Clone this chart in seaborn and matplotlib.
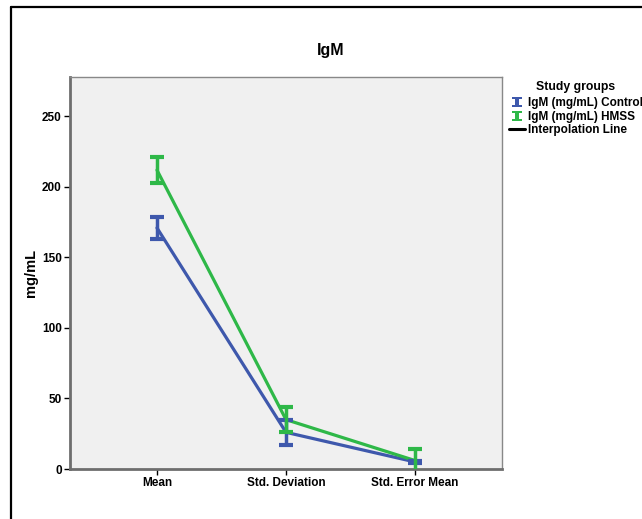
import matplotlib
matplotlib.use("Agg")
import matplotlib.pyplot as plt
import numpy as np
import pandas as pd
import seaborn as sns
from matplotlib.lines import Line2D
from matplotlib.path import Path

# --- data ---
stats = ["Mean", "Std. Deviation", "Std. Error Mean"]
groups = ["IgM (mg/mL) Control", "IgM (mg/mL) HMSS"]
control_vals = [171, 26, 5]
control_low = [163, 17, 4]
control_high = [179, 35, 6]
hmss_vals = [212, 35, 6]
hmss_low = [203, 26, -2]
hmss_high = [221, 44, 14]
colors = ["#3e58ac", "#2eb848"]

df = pd.DataFrame({
    "stat": stats * 2,
    "value": control_vals + hmss_vals,
    "group": [groups[0]] * 3 + [groups[1]] * 3,
})

sns.set_style("white")
plt.rcParams["font.family"] = ["Liberation Sans", "DejaVu Sans"]
plt.rcParams["font.weight"] = "bold"
plt.rcParams["text.color"] = "black"
plt.rcParams["xtick.color"] = "black"
plt.rcParams["ytick.color"] = "black"
plt.rcParams["axes.labelcolor"] = "black"

fig = plt.figure(figsize=(6.42, 5.19), dpi=100)
ax = fig.add_axes([70 / 642, 1 - 469 / 519, 432 / 642, 392 / 519])
ax.set_facecolor("#f0f0f0")

sns.pointplot(data=df, x="stat", y="value", hue="group", palette=colors,
              markers="", errorbar=None, legend=False, ax=ax)
for ln in ax.lines:
    ln.set_linewidth(2.3)

# error bars (I-beams)
lows = [control_low, hmss_low]
highs = [control_high, hmss_high]
vals = [control_vals, hmss_vals]
for i in range(2):
    v = np.array(vals[i])
    err = [v - np.array(lows[i]), np.array(highs[i]) - v]
    ax.errorbar(np.arange(3), v, yerr=err, fmt="none", ecolor=colors[i],
                elinewidth=2.5, capsize=5, capthick=3, zorder=3 + i)

ax.set_xlim(-0.674, 2.674)
ax.set_ylim(0, 278)
ax.set_yticks([0, 50, 100, 150, 200, 250])
ax.set_xlabel("")
ax.set_ylabel("mg/mL", fontsize=10.5, fontweight="bold", labelpad=3)
ax.tick_params(axis="both", labelsize=8.5, length=4, width=1,
               left=True, bottom=True, pad=2)
for lab in ax.get_xticklabels() + ax.get_yticklabels():
    lab.set_fontweight("bold")
for s in ["left", "bottom"]:
    ax.spines[s].set_color("#6e6e6e")
    ax.spines[s].set_linewidth(2)
for s in ["top", "right"]:
    ax.spines[s].set_color("#888888")
    ax.spines[s].set_linewidth(1)

fig.text(331 / 642, 1 - 50 / 519, "IgM", ha="center", va="center",
         fontsize=11.5, fontweight="bold")

# legend
ibeam = Path([(-1, 1), (1, 1), (1, 0.6), (0.35, 0.6), (0.35, -0.6), (1, -0.6),
              (1, -1), (-1, -1), (-1, -0.6), (-0.35, -0.6), (-0.35, 0.6),
              (-1, 0.6), (-1, 1)], closed=True)
handles = [Line2D([], [], linestyle="none", marker=ibeam, markersize=7.5,
                  color=c, markeredgewidth=0) for c in colors]
handles.append(Line2D([], [], color="black", lw=2.2))
leg = fig.legend(handles, groups + ["Interpolation Line"], title="Study groups",
                 loc="upper left", bbox_to_anchor=(501 / 642, 1 - 73 / 519),
                 frameon=False, fontsize=8.5, title_fontsize=8.8,
                 handlelength=1.3, handletextpad=0.25, labelspacing=0.12,
                 borderpad=0.2)
leg._legend_box.sep = 3
leg.get_title().set_fontweight("bold")
for t in leg.get_texts():
    t.set_fontweight("bold")

# outer frame
fig.add_artist(Line2D([11 / 642, 11 / 642], [0, 1 - 7 / 519], color="black",
                      lw=1.6, transform=fig.transFigure))
fig.add_artist(Line2D([11 / 642, 1], [1 - 7 / 519, 1 - 7 / 519], color="black",
                      lw=1.6, transform=fig.transFigure))

fig.savefig("out.png", dpi=100)
